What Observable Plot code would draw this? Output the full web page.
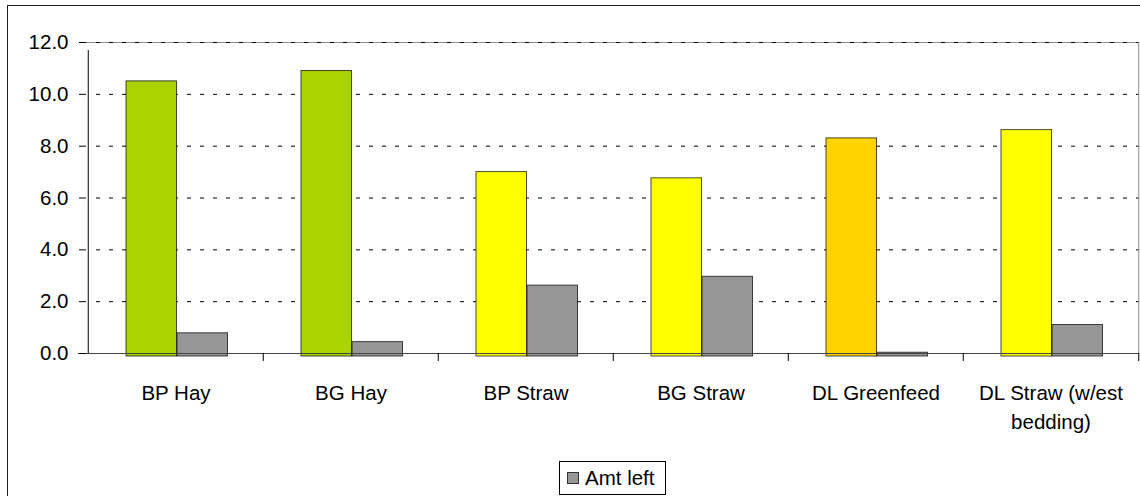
<!DOCTYPE html>
<html>
<head>
<meta charset="utf-8">
<script src="https://cdn.jsdelivr.net/npm/d3@7"></script>
<script src="https://cdn.jsdelivr.net/npm/@observablehq/plot@0.6"></script>
<style>
  html, body { margin: 0; padding: 0; background: #fff; }
  #wrap { position: relative; width: 1140px; height: 496px; overflow: hidden; font-family: "Liberation Sans", Arial, sans-serif; }
  #border { position: absolute; left: 7px; top: 5px; width: 1160px; height: 520px; border: 1.5px solid #1a1a1a; box-sizing: border-box; pointer-events: none; }
  #legend { position: absolute; left: 559px; top: 461px; width: 107px; height: 34px; border: 1px solid #000; box-sizing: border-box; background: #fff; display: flex; align-items: center; font-size: 20.5px; color: #000; }
  #legend .sw { width: 10px; height: 10px; background: #969696; border: 1px solid #333; margin: 0 6px 0 7px; }
  #chart { position: absolute; left: 0; top: 0; }
</style>
</head>
<body>
<div id="wrap">
  <div id="chart"></div>
  <div id="border"></div>
  <div id="legend"><div class="sw"></div><span>Amt left</span></div>
</div>
<script>
// Feed categories and their axis labels
const categories = ["BP Hay", "BG Hay", "BP Straw", "BG Straw", "DL Greenfeed", "DL Straw (w/est bedding)"];
const tickLabels = ["BP Hay", "BG Hay", "BP Straw", "BG Straw", "DL Greenfeed", "DL Straw (w/est\nbedding)"];
const feedType = ["Hay", "Hay", "Straw", "Straw", "Greenfeed", "Straw"];

// Series values
const amountFed = [10.5, 10.9, 7.0, 6.76, 8.3, 8.62];
const amtLeft = [0.78, 0.44, 2.62, 2.96, 0.03, 1.1];

// Value axis ticks
const yTicks = [0, 2, 4, 6, 8, 10, 12];

const rows = categories.map((c, i) => ({category: c, type: feedType[i], fed: amountFed[i], left: amtLeft[i]}));

const width = 1140, height = 496;
const marginLeft = 86, marginRight = 1, marginTop = 42, marginBottom = 143;
const bw = (width - marginLeft - marginRight) / categories.length;
const barW = 51, gapLeft = 38;

const chart = Plot.plot({
  width, height, marginLeft, marginRight, marginTop, marginBottom,
  style: {fontFamily: "'Liberation Sans', Arial, sans-serif", fontSize: "20.5px", color: "#000", background: "transparent"},
  x: {domain: categories, padding: 0, label: null},
  y: {domain: [0, 12], label: null},
  color: {domain: ["Hay", "Straw", "Greenfeed"], range: ["#aad400", "#ffff00", "#ffd300"]},
  marks: [
    // plot-area top edge and dotted gridlines
    Plot.ruleY([12], {stroke: "#8c8c8c", strokeWidth: 1}),
    Plot.ruleY(yTicks.filter(d => d > 0), {stroke: "#000", strokeWidth: 1, strokeDasharray: "4,9", insetLeft: 10}),
    // plot-area right edge
    Plot.ruleX([categories[categories.length - 1]], {x: d => d, dx: bw / 2, y1: 0, y2: 12, stroke: "#8c8c8c"}),
    Plot.barY(rows, {x: "category", y: "fed", fill: "type", stroke: "#000", strokeOpacity: 0.7,
      insetLeft: gapLeft, insetRight: bw - gapLeft - barW, insetBottom: -3}),
    Plot.barY(rows, {x: "category", y: "left", fill: "#969696", stroke: "#000", strokeOpacity: 0.7,
      insetLeft: gapLeft + barW, insetRight: bw - gapLeft - 2 * barW, insetBottom: -3}),
    // category axis line
    Plot.ruleY([0], {stroke: "#444", strokeWidth: 1.2, insetLeft: -8}),
    // value axis line with its bottom tick
    Plot.ruleX([categories[0]], {x: d => d, dx: -bw / 2, y1: 0, y2: 12, insetBottom: -8, stroke: "#000"}),
    // category boundary ticks
    Plot.ruleX(categories.slice(1), {x: d => d, dx: -bw / 2, y1: 0, y2: 0, insetBottom: -8, stroke: "#000"}),
    Plot.ruleX([categories[categories.length - 1]], {x: d => d, dx: bw / 2, y1: 0, y2: 0, insetBottom: -8, stroke: "#000"}),
    Plot.axisY(yTicks, {tickSize: 7, tickPadding: 11, tickFormat: d3.format(".1f"), stroke: "#000", label: null}),
    Plot.axisX({tickSize: 0, tickPadding: 27, lineHeight: 1.37, label: null,
      tickFormat: d => tickLabels[categories.indexOf(d)]})
  ]
});
document.getElementById("chart").appendChild(chart);
</script>
</body>
</html>
